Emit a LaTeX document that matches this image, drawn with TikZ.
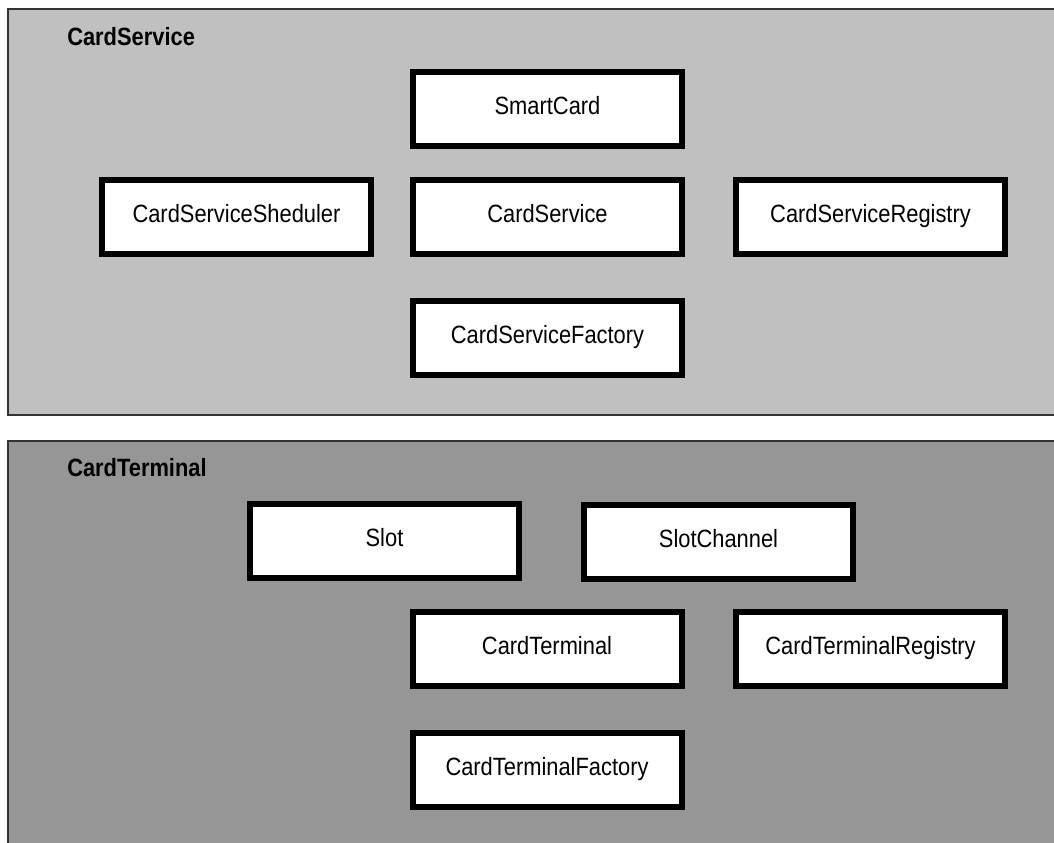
\documentclass[tikz,border=0pt]{standalone}
\usepackage{fontspec}
\setmainfont{Liberation Sans}[FakeStretch=0.875]
\usepackage{tikz}
\definecolor{svcgray}{HTML}{C0C0C0}
\definecolor{termgray}{HTML}{969696}
\definecolor{edgegray}{HTML}{333333}

\begin{document}
\begin{tikzpicture}[x=0.75pt, y=-0.75pt,
    classbox/.style={draw=black, line width=4.5pt, fill=white, minimum width=201.75pt, minimum height=55.5pt, inner sep=0pt, text height=13.5pt, text depth=5.25pt, font=\fontsize{18.75}{22}\selectfont},
    panellabel/.style={anchor=base west, inner sep=0pt, font=\fontsize{18.75}{22}\selectfont\bfseries}]
    \useasboundingbox (0,0) rectangle (1054,843);
    \clip (0,0) rectangle (1054,843);
    % Draw the two packages
    \draw[edgegray, line width=1.1pt, fill=svcgray] (8,9) rectangle (1070,415);
    \draw[edgegray, line width=1.1pt, fill=termgray] (8,441) rectangle (1070,870);
    \node[panellabel] (svclabel) at (67,45) {CardService};
    \node[panellabel] (termlabel) at (67,476) {CardTerminal};

    % Draw the CardService classes
    \node[classbox] (smartcard) at (547.5,108.5) {SmartCard};
    \node[classbox] (cardservice) at (547.5,217) {CardService};
    \node[classbox] (scheduler) at (236.5,217) {CardServiceSheduler};
    \node[classbox] (svcregistry) at (870.5,217) {CardServiceRegistry};
    \node[classbox] (svcfactory) at (547.5,337.5) {CardServiceFactory};

    % Draw the CardTerminal classes
    \node[classbox] (slot) at (384.5,540.5) {Slot};
    \node[classbox] (slotchannel) at (718.5,541.5) {SlotChannel};
    \node[classbox] (terminal) at (547,648.5) {CardTerminal};
    \node[classbox] (termregistry) at (870.5,648.5) {CardTerminalRegistry};
    \node[classbox] (termfactory) at (547,770) {CardTerminalFactory};
\end{tikzpicture}
\end{document}
